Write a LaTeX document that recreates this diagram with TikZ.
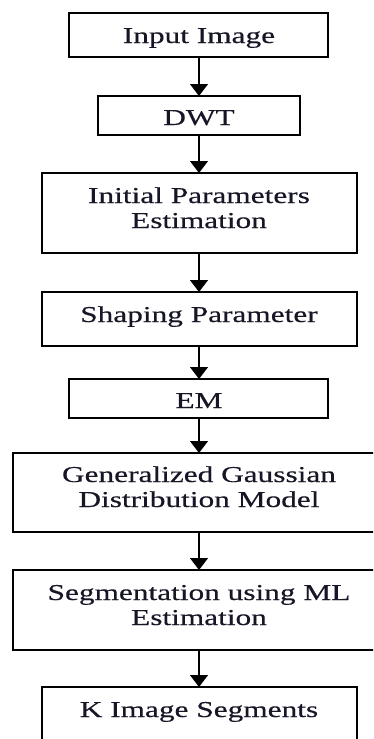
\documentclass[tikz,border=0pt]{standalone}
\usepackage{fontspec}
\setmainfont{Liberation Serif}[FakeStretch=1.38, FakeBold=0.4]
\usetikzlibrary{arrows.meta}
\definecolor{ink}{RGB}{22,22,38}
\tikzset{
  box/.style={draw=black, line width=1.3pt, inner sep=0pt, outer sep=0pt},
  txt/.style={text=ink, font=\fontsize{22.7}{25}\selectfont, align=center, anchor=base, inner sep=0pt},
  arr/.style={draw=black, line width=1.2pt, -{Triangle[width=18pt,length=12pt]}}
}
\begin{document}
\begin{tikzpicture}[x=1pt,y=-1pt]
  \useasboundingbox (0,0) rectangle (373,739);
  \clip (0,0) rectangle (373,739);
  % process boxes (centre, width, height)
  \node[box, minimum width=259pt, minimum height=44pt] (b1) at (198.5,35) {};
  \node[box, minimum width=202pt, minimum height=39pt] (b2) at (199,115.5) {};
  \node[box, minimum width=315pt, minimum height=80pt] (b3) at (199.5,213) {};
  \node[box, minimum width=315pt, minimum height=54pt] (b4) at (199.5,319) {};
  \node[box, minimum width=259pt, minimum height=39pt] (b5) at (198.5,398.5) {};
  \node[box, minimum width=372pt, minimum height=79pt] (b6) at (199,492.5) {};
  \node[box, minimum width=372pt, minimum height=80pt] (b7) at (199,610) {};
  \node[box, minimum width=315pt, minimum height=58pt] (b8) at (199.5,716) {};
  % labels (base anchor sits on the last line's baseline)
  \node[txt] (t1) at (199,43) {Input Image};
  \node[txt] (t2) at (199,125) {DWT};
  \node[txt] (t3) at (199,228) {Initial Parameters\\Estimation};
  \node[txt] (t4) at (199,322) {Shaping Parameter};
  \node[txt] (t5) at (199,408) {EM};
  \node[txt] (t6) at (199,507) {Generalized Gaussian\\Distribution Model};
  \node[txt] (t7) at (199,625) {Segmentation using ML\\Estimation};
  \node[txt] (t8) at (199,717) {K Image Segments};
  % flow arrows
  \foreach \a/\b in {b1/b2, b2/b3, b3/b4, b4/b5, b5/b6, b6/b7, b7/b8}
    \draw[arr] (\a.south -| 199,0) -- (\b.north -| 199,0);
\end{tikzpicture}
\end{document}
